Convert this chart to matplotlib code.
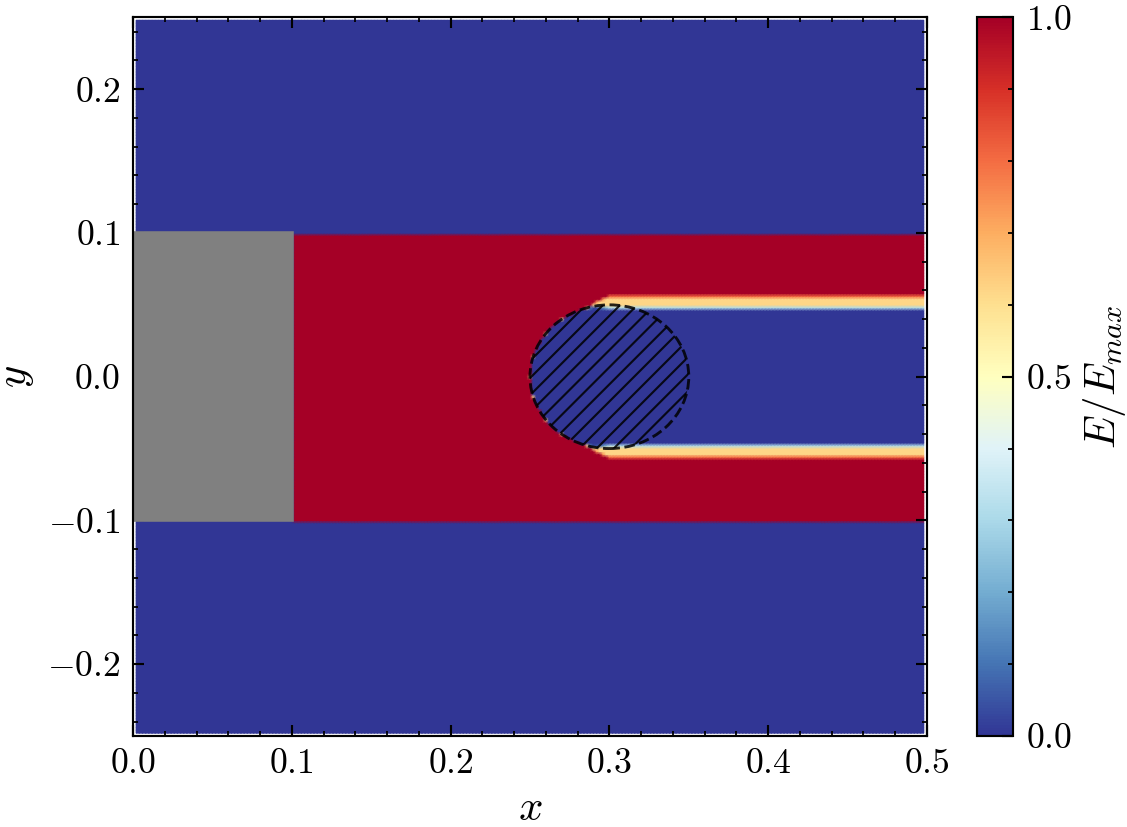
import numpy as np
import matplotlib
matplotlib.use("Agg")
import matplotlib.pyplot as plt
from matplotlib.patches import Circle, Rectangle
from matplotlib.ticker import MultipleLocator

# geometry of the setup
x_range = [0.0, 0.5]
y_range = [-0.25, 0.25]
channel_half = 0.1          # red beam |y| < 0.1
block_x = [0.0, 0.1]        # grey source block
obstacle_c = (0.3, 0.0)
obstacle_r = 0.05
edge_width = 0.010          # width of the shadow edge ramp
edge_level = 0.62           # intensity on the shadow edge
cbar_ticks = [0.0, 0.5, 1.0]

plt.rcParams.update({
    "font.family": "serif",
    "font.serif": ["cmr10"],
    "mathtext.fontset": "cm",
    "axes.formatter.use_mathtext": True,
    "font.size": 10,
    "axes.linewidth": 0.6,
    "xtick.direction": "in", "ytick.direction": "in",
    "xtick.top": True, "ytick.right": True,
    "xtick.minor.visible": True, "ytick.minor.visible": True,
    "xtick.major.size": 3, "ytick.major.size": 3,
    "xtick.minor.size": 1.5, "ytick.minor.size": 1.5,
    "xtick.major.width": 0.6, "ytick.major.width": 0.6,
    "xtick.minor.width": 0.5, "ytick.minor.width": 0.5,
    "hatch.linewidth": 0.6,
})

# field on a cell-centred grid
dx = 0.002
x = np.arange(x_range[0] + dx, x_range[1] - dx / 2, dx)
y = np.arange(y_range[0] + dx, y_range[1] - dx / 2, dx)
X, Y = np.meshgrid(x, y)

cx, cy = obstacle_c
d = np.where(X >= cx, np.abs(Y - cy) - obstacle_r,
             np.hypot(X - cx, Y - cy) - obstacle_r)
x0 = cx - 0.015
w = edge_width * np.clip((X - x0) / (cx - x0), 0, 1) + 1e-6
s = np.clip((d + 0.3 * w) / w, 0, 1)
# quick rise to the edge level, plateau, then up to full intensity
E_shadow = edge_level * np.clip(s / 0.2, 0, 1) + (1 - edge_level) * np.clip((s - 0.8) / 0.2, 0, 1)
E_beam = ((np.abs(Y) < channel_half) & (X > block_x[1])).astype(float)
E = E_beam * E_shadow

fig = plt.figure(figsize=(1127 / 257, 827 / 257), dpi=257)
ax = fig.add_axes([0.118, 0.110, 0.7045, 0.869])
cax = fig.add_axes([0.867, 0.110, 0.032, 0.869])

mesh = ax.pcolormesh(X, Y, E, cmap="RdYlBu_r", vmin=0, vmax=1, shading="gouraud",
                     rasterized=True)
ax.add_patch(Rectangle((block_x[0], -channel_half), block_x[1] - block_x[0],
                       2 * channel_half, color="gray", zorder=2))
ax.add_patch(Circle(obstacle_c, obstacle_r, fill=False, hatch="/////", ls="--",
                    lw=0.8, ec="black", alpha=0.85, zorder=3))

ax.set_xlim(x_range)
ax.set_ylim(y_range)
ax.xaxis.set_major_locator(MultipleLocator(0.1))
ax.yaxis.set_major_locator(MultipleLocator(0.1))
ax.xaxis.set_minor_locator(MultipleLocator(0.02))
ax.yaxis.set_minor_locator(MultipleLocator(0.02))
ax.set_xlabel("$x$", fontsize=12, labelpad=3)
ax.set_ylabel("$y$", fontsize=12, labelpad=3)

cb = fig.colorbar(mesh, cax=cax)
cb.set_ticks(cbar_ticks)
cb.ax.yaxis.set_minor_locator(MultipleLocator(0.1))
cb.ax.tick_params(which="both", direction="in")
cb.outline.set_linewidth(0.6)
cb.set_label("$E/E_{max}$", fontsize=12, labelpad=2.5)

fig.savefig("out.png", dpi=257)
